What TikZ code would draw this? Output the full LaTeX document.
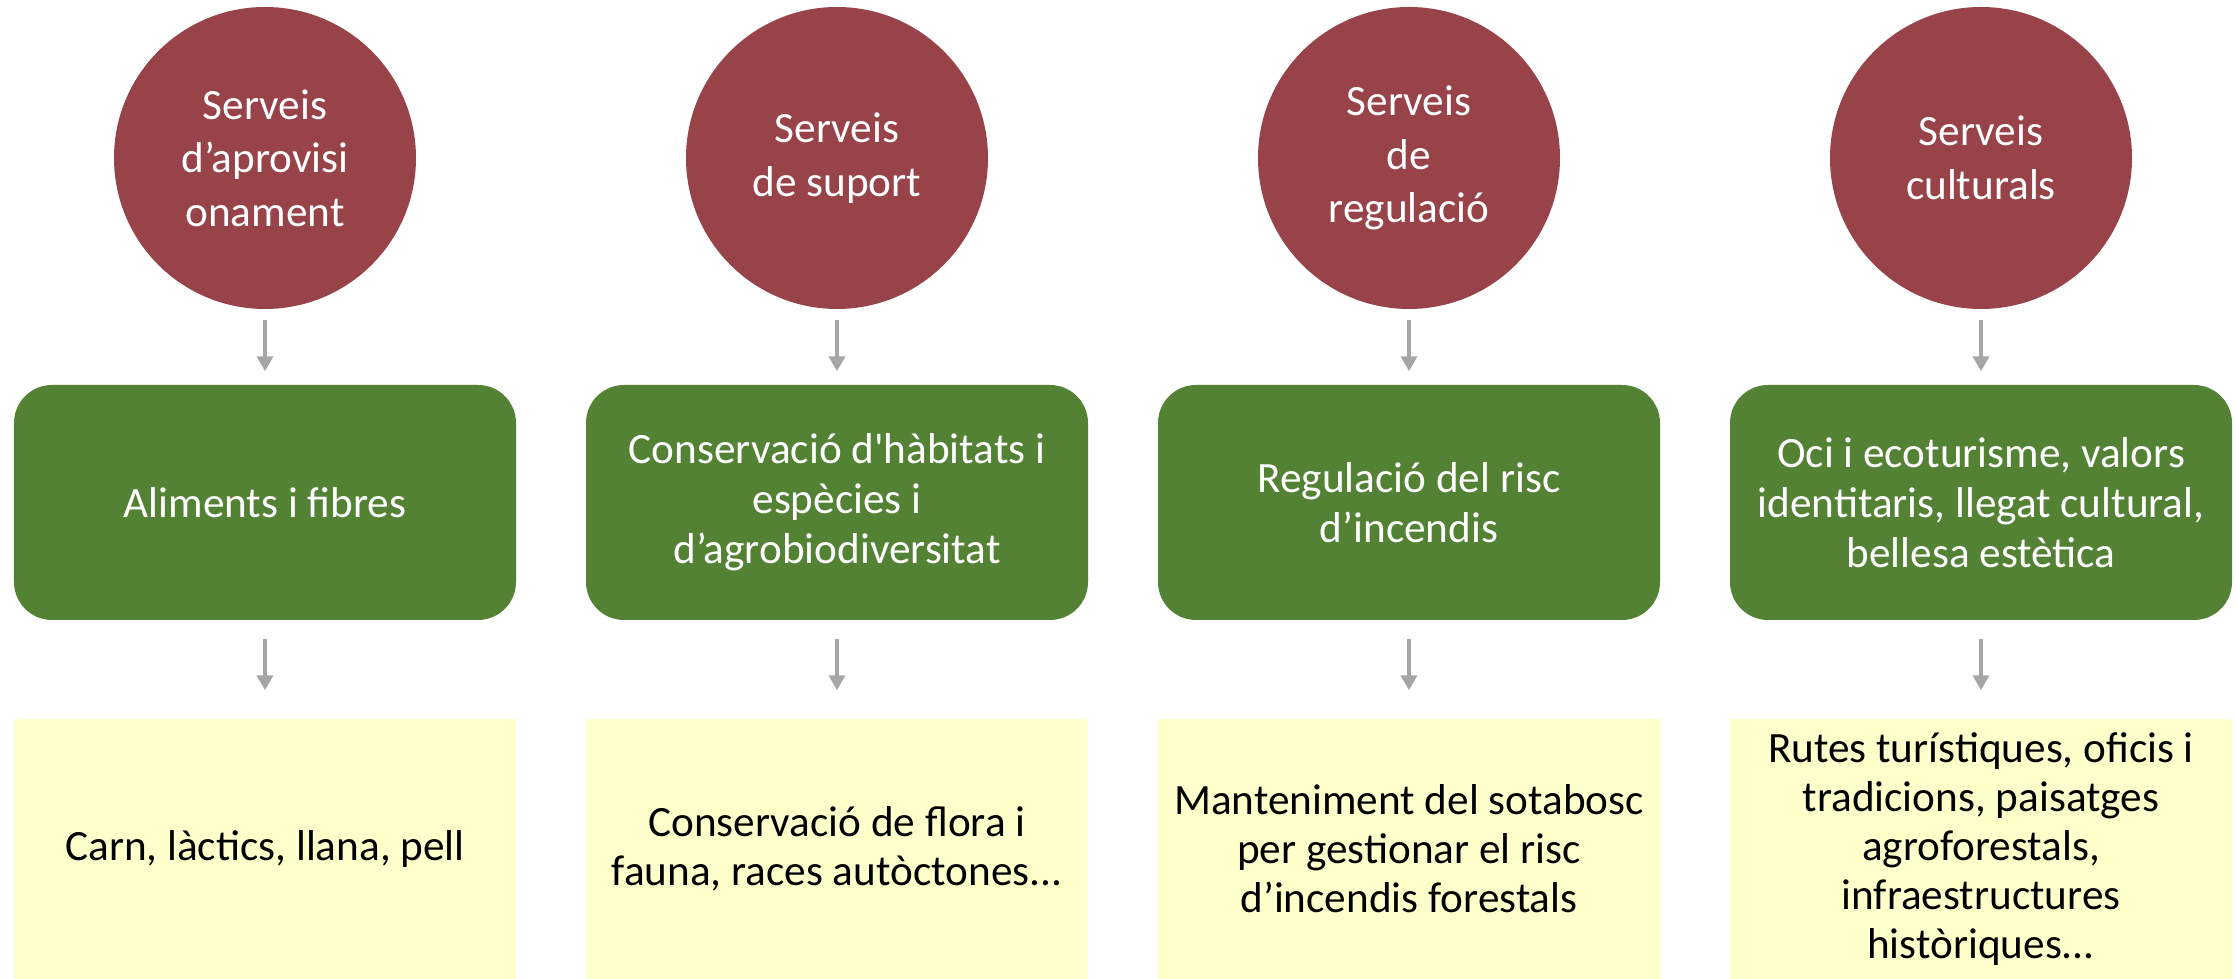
\documentclass[tikz,border=0pt]{standalone}
\usepackage{fontspec}
\setmainfont{Carlito}
\usepackage{tikz}
\usetikzlibrary{positioning}
\usetikzlibrary{shapes, backgrounds}
\usetikzlibrary{arrows.meta}
\usetikzlibrary{calc}
\definecolor{servred}{RGB}{152,67,73}
\definecolor{servgreen}{RGB}{84,130,53}
\definecolor{servyellow}{RGB}{255,255,204}
\definecolor{arrowgray}{RGB}{166,166,166}

\begin{document}
\begin{tikzpicture}[service/.style={circle, fill=servred, text=white, minimum size=3.02cm, inner sep=0pt, font=\fontsize{12.3}{15.2}\selectfont},
				benefit/.style={rectangle, fill=servgreen, text=white, rounded corners=0.38cm, minimum width=5.02cm, minimum height=2.35cm, inner sep=0pt, font=\fontsize{12.3}{14.2}\selectfont},
				example/.style={rectangle, fill=servyellow, text=black, minimum width=5.02cm, minimum height=2.6cm, inner sep=0pt, font=\fontsize{12.3}{13.9}\selectfont},
				link/.style={draw=arrowgray, line width=0.4mm, -{Triangle[length=1.5mm, width=1.6mm]}},
				every text node part/.style={align=center}]
				\useasboundingbox (0, 0) rectangle (22.36, 9.79);
				
				\node[service](serv1) at (2.65, 8.21) {Serveis\\d’aprovisi\\onament};
				\node[service](serv2) at (8.37, 8.21) {Serveis\\de suport};
				\node[service](serv3) at (14.09, 8.21) {Serveis\\de\\regulació};
				\node[service](serv4) at (19.81, 8.21) {Serveis\\culturals};
				
				\node[benefit](ben1) at (2.65, 4.765) {Aliments i fibres};
				\node[benefit](ben2) at (8.37, 4.765) {Conservació d\textquotesingle hàbitats i\\espècies i\\d’agrobiodiversitat};
				\node[benefit](ben3) at (14.09, 4.765) {Regulació del risc\\d’incendis};
				\node[benefit](ben4) at (19.81, 4.765) {Oci i ecoturisme, valors\\identitaris, llegat cultural,\\bellesa estètica};
				
				\node[example](ex1) at (2.65, 1.3) {Carn, làctics, llana, pell};
				\node[example](ex2) at (8.37, 1.3) {Conservació de flora i\\fauna, races autòctones...};
				\node[example](ex3) at (14.09, 1.3) {Manteniment del sotabosc\\per gestionar el risc\\d’incendis forestals};
				\node[example](ex4) at (19.81, 1.3) {Rutes turístiques, oficis i\\tradicions, paisatges\\agroforestals,\\infraestructures\\històriques...};
				
				\draw[link, shorten <=0.1cm, shorten >=0.13cm] (serv1) -- (ben1);
				\draw[link, shorten <=0.1cm, shorten >=0.13cm] (serv2) -- (ben2);
				\draw[link, shorten <=0.1cm, shorten >=0.13cm] (serv3) -- (ben3);
				\draw[link, shorten <=0.1cm, shorten >=0.13cm] (serv4) -- (ben4);
				\draw[link, shorten <=0.18cm, shorten >=0.28cm] (ben1) -- (ex1);
				\draw[link, shorten <=0.18cm, shorten >=0.28cm] (ben2) -- (ex2);
				\draw[link, shorten <=0.18cm, shorten >=0.28cm] (ben3) -- (ex3);
				\draw[link, shorten <=0.18cm, shorten >=0.28cm] (ben4) -- (ex4);
				
			\end{tikzpicture}
\end{document}
